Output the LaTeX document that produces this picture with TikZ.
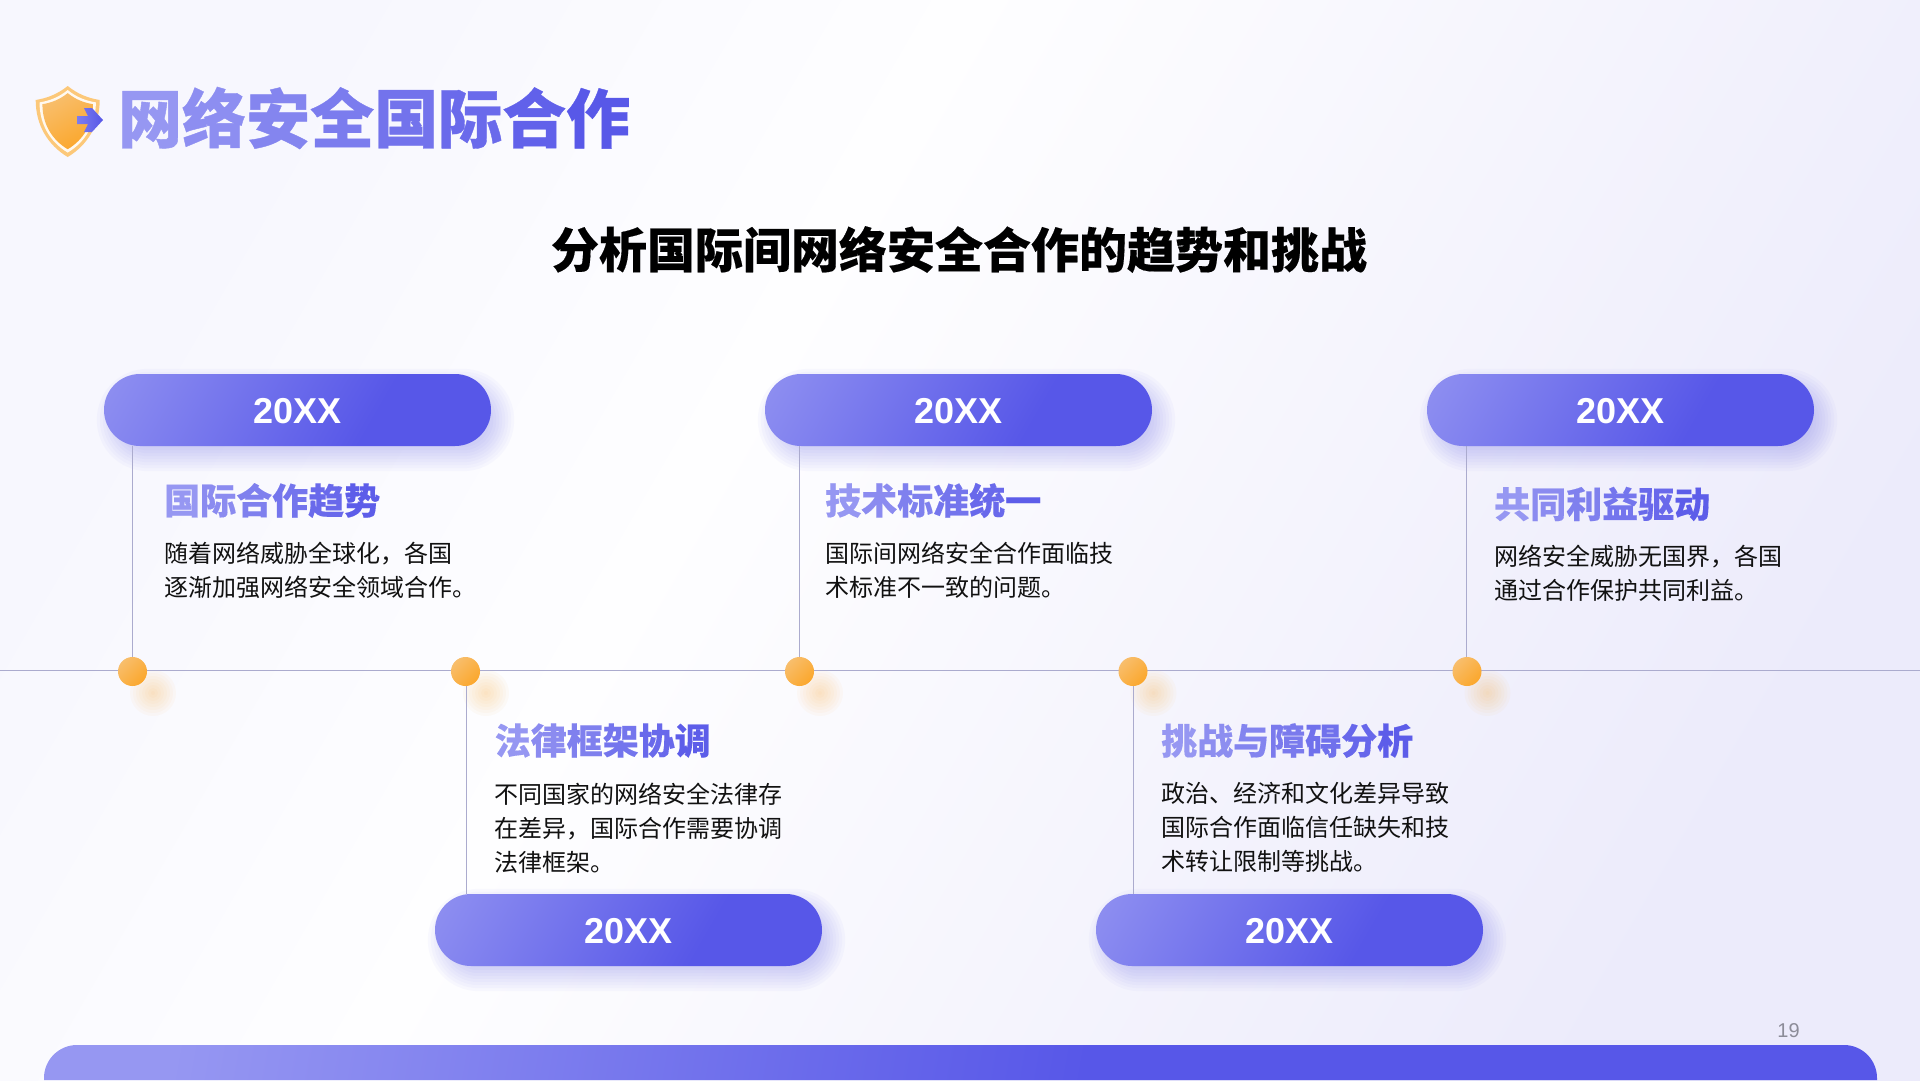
\documentclass[tikz,border=0pt]{standalone}
\usepackage{fontspec}
\usepackage{color}
\usetikzlibrary{backgrounds}
\setmainfont{Noto Sans CJK SC}
\newfontfamily\numfont{Liberation Sans}
\definecolor{fadeleft}{HTML}{9697F2}
\definecolor{faderight}{HTML}{5757E8}
\definecolor{railcolor}{HTML}{ABABCE}
\definecolor{glowcolor}{HTML}{FBB040}
\definecolor{dotlight}{HTML}{F8BE6C}
\definecolor{dotdark}{HTML}{FBA72C}
\definecolor{bodycolor}{HTML}{111111}
\definecolor{pagecolor}{HTML}{8C8C98}
\definecolor{bgone}{HTML}{F7F7FE}
\definecolor{bgtwo}{HTML}{FEFEFF}
\definecolor{bgthree}{HTML}{ECEBFB}
\pgfdeclarehorizontalshading{pillshade}{100bp}{color(0bp)=(fadeleft);color(10bp)=(fadeleft);color(63bp)=(faderight);color(100bp)=(faderight)}
\pgfdeclarehorizontalshading{barshade}{100bp}{color(0bp)=(fadeleft);color(25bp)=(fadeleft);color(54bp)=(faderight);color(100bp)=(faderight)}
\pgfdeclarehorizontalshading{bgshade}{100bp}{color(0bp)=(bgone);color(25bp)=(bgone);color(42bp)=(bgtwo);color(75bp)=(bgthree);color(100bp)=(bgthree)}
\def\fadeloop#1{\ifx#1\relax\else\textcolor{faderight!\fadepct!fadeleft}{#1}\pgfmathsetmacro\fadepct{\fadepct+\fadestep}\expandafter\fadeloop\fi}
\newcommand\fadetext[2]{\def\fadepct{0}\def\fadestep{#1}\fadeloop#2\relax}
\begin{document}
\begin{tikzpicture}[x=1pt,y=-1pt,
  pill/.style={shade,shading=pillshade,shading angle=-30,rounded corners=36pt,minimum width=387pt,minimum height=72pt,inner sep=0pt,text=white,text height=27.8pt,text depth=0pt,font=\numfont\bfseries\fontsize{36}{36}\selectfont},
  dot/.style={circle,minimum size=29pt,inner sep=0pt,top color=dotlight,bottom color=dotdark,shading angle=45},
  head/.style={anchor=west,inner sep=0pt,font=\bfseries\addfontfeature{FakeBold=.3}\fontsize{36}{40}\selectfont},
  body/.style={anchor=west,inner sep=0pt,align=left,text=bodycolor,font=\fontsize{24}{34}\selectfont},
  rail/.style={draw=railcolor,line width=1pt}]
\useasboundingbox (0,0) rectangle (1920,1080);
\node [pill] (pillA) at (297.5,410) {20XX};
\node [pill] (pillB) at (958.5,410) {20XX};
\node [pill] (pillC) at (1620.5,410) {20XX};
\node [pill] (pillD) at (628.5,930) {20XX};
\node [pill] (pillE) at (1289.5,930) {20XX};
\node [dot] (dotA) at (132.5,671.5) {};
\node [dot] (dotD) at (465.5,671.5) {};
\node [dot] (dotB) at (799.5,671.5) {};
\node [dot] (dotE) at (1133,671.5) {};
\node [dot] (dotC) at (1467,671.5) {};
\coordinate (railL) at (0,670.5);
\coordinate (railR) at (1920,670.5);
\node [anchor=west,inner sep=0pt,font=\bfseries\addfontfeature{FakeBold=.6}\fontsize{64}{70}\selectfont] (title) at (118,118) {\fadetext{14}{网络安全国际合作}};
\node [inner sep=0pt,font=\bfseries\addfontfeature{FakeBold=.3}\fontsize{48}{54}\selectfont] (subtitle) at (959,249.5) {分析国际间网络安全合作的趋势和挑战};
\node [head] (headA) at (164,500.5) {\fadetext{18}{国际合作趋势}};
\node [body] (bodyA) at (164,570.5) {随着网络威胁全球化，各国\\逐渐加强网络安全领域合作。};
\node [head] (headB) at (825,500.5) {\fadetext{18}{技术标准统一}};
\node [body] (bodyB) at (825.5,570.5) {国际间网络安全合作面临技\\术标准不一致的问题。};
\node [head] (headC) at (1494,504) {\fadetext{18}{共同利益驱动}};
\node [body] (bodyC) at (1494.5,573.5) {网络安全威胁无国界，各国\\通过合作保护共同利益。};
\node [head] (headD) at (494.5,740.5) {\fadetext{18}{法律框架协调}};
\node [body] (bodyD) at (494.5,828) {不同国家的网络安全法律存\\在差异，国际合作需要协调\\法律框架。};
\node [head] (headE) at (1161,740.5) {\fadetext{15}{挑战与障碍分析}};
\node [body] (bodyE) at (1161,827) {政治、经济和文化差异导致\\国际合作面临信任缺失和技\\术转让限制等挑战。};
\node [inner sep=0pt,text=pagecolor,font=\numfont\fontsize{20}{22}\selectfont] (page) at (1788.5,1030.5) {19};
\shade [shading=barshade,shading angle=-10] (44,1080) [rounded corners=33pt] -- (44,1045) -- (1877,1045) [sharp corners] -- (1877,1080) -- cycle;
\foreach \s/\c in {1/glowcolor!70!white,.88/white!92!glowcolor}
  \fill [\c,shift={(67.7,120)},scale=\s] (0,-34) .. controls (10,-26) and (20,-22) .. (32,-20) .. controls (32,5) and (20,25) .. (0,37) .. controls (-20,25) and (-32,5) .. (-32,-20) .. controls (-20,-22) and (-10,-26) .. (0,-34) -- cycle;
\shade [top color=dotlight,bottom color=dotdark,shading angle=30,shift={(67.7,120)},scale=.79] (0,-34) .. controls (10,-26) and (20,-22) .. (32,-20) .. controls (32,5) and (20,25) .. (0,37) .. controls (-20,25) and (-32,5) .. (-32,-20) .. controls (-20,-22) and (-10,-26) .. (0,-34) -- cycle;
\shade [left color=fadeleft!60!faderight,right color=faderight] (77,116) -- (88,116) -- (84,108) -- (92,108) -- (103,120) -- (92,132) -- (84,132) -- (88,124) -- (77,124) -- cycle;
\begin{scope}[on background layer]
\shade [shading=bgshade,shading angle=-30] (0,0) rectangle (1920,1080);
\foreach \p in {pillA,pillB,pillC,pillD,pillE}
  \foreach \g in {-9,-6,...,15}
    \fill [faderight,opacity=.03,rounded corners={(36+\g)*1pt}] ([shift={(8-\g,10+\g)}]\p.south west) rectangle ([shift={(8+\g,10-\g)}]\p.north east);
\foreach \d in {dotA,dotB,dotC,dotD,dotE}
  \foreach \r in {2,5,...,23}
    \fill [glowcolor,opacity=.045] ([shift={(20.5,21.5)}]\d.center) circle (\r);
\draw [rail] (railL) -- (railR);
\draw [rail] (dotA) -- (dotA |- pillA.south);
\draw [rail] (dotB) -- (dotB |- pillB.south);
\draw [rail] ([xshift=-1pt]dotC.center) -- ([xshift=-1pt]dotC.center |- pillC.south);
\draw [rail] ([xshift=1pt]dotD.center) -- ([xshift=1pt]dotD.center |- pillD.north);
\draw [rail] (dotE) -- (dotE |- pillE.north);
\end{scope}
\end{tikzpicture}
\end{document}
